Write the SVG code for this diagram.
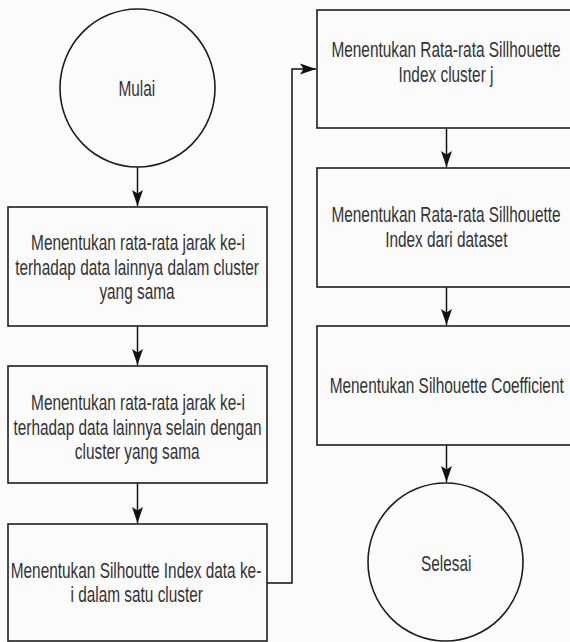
<svg xmlns="http://www.w3.org/2000/svg" width="570" height="642" viewBox="0 0 570 642">
<style>
.bg{fill:#fbfbfb}
.shape{fill:#fbfbfb;stroke:#1e1e1e;stroke-width:1.6}
.edge{fill:none;stroke:#111;stroke-width:1.5}
text{font-family:"Liberation Sans",Arial,sans-serif;font-size:22px;fill:#333;text-anchor:middle}
</style>
<defs>
<marker id="arr" markerUnits="userSpaceOnUse" markerWidth="17" markerHeight="12" refX="16" refY="6" orient="auto">
<path d="M0,0.5 L16,6 L0,11.5 L3.5,6 Z" fill="#111"/>
</marker>
</defs>
<rect class="bg" x="0" y="0" width="570" height="642"/>
<g id="connectors">
<path class="edge" d="M137.5,167 L137.5,206" marker-end="url(#arr)"/>
<path class="edge" d="M137.5,326 L137.5,365" marker-end="url(#arr)"/>
<path class="edge" d="M137.5,483 L137.5,523" marker-end="url(#arr)"/>
<path class="edge" d="M267,583 L292,583 L292,69 L316,69" marker-end="url(#arr)"/>
<path class="edge" d="M446.5,128 L446.5,167" marker-end="url(#arr)"/>
<path class="edge" d="M446.5,287 L446.5,325" marker-end="url(#arr)"/>
<path class="edge" d="M446.5,445 L446.5,482" marker-end="url(#arr)"/>
</g>
<g id="mulai">
<ellipse class="shape" cx="137.5" cy="88" rx="77.5" ry="79"/>
<text transform="translate(136.8,96) scale(0.7,1)">Mulai</text>
</g>
<g id="step1">
<rect class="shape" x="8" y="207" width="259" height="119"/>
<text transform="translate(138,250.3) scale(0.7,1)">Menentukan rata-rata jarak ke-i</text>
<text transform="translate(137,275) scale(0.7,1)">terhadap data lainnya dalam cluster</text>
<text transform="translate(137,299) scale(0.7,1)">yang sama</text>
</g>
<g id="step2">
<rect class="shape" x="8" y="366" width="259" height="117"/>
<text transform="translate(138,410.3) scale(0.7,1)">Menentukan rata-rata jarak ke-i</text>
<text transform="translate(137.5,435) scale(0.7,1)">terhadap data lainnya selain dengan</text>
<text transform="translate(137.2,459) scale(0.7,1)">cluster yang sama</text>
</g>
<g id="step3">
<rect class="shape" x="8" y="524" width="259" height="117"/>
<text transform="translate(136,577.7) scale(0.7,1)">Menentukan Silhoutte Index data ke-</text>
<text transform="translate(136.7,601.7) scale(0.7,1)">i dalam satu cluster</text>
</g>
<g id="step4">
<rect class="shape" x="317" y="10" width="259" height="118"/>
<text transform="translate(446,57.3) scale(0.7,1)">Menentukan Rata-rata Sillhouette</text>
<text transform="translate(446,82.3) scale(0.7,1)">Index cluster j</text>
</g>
<g id="step5">
<rect class="shape" x="317" y="168" width="259" height="119"/>
<text transform="translate(446,221.7) scale(0.7,1)">Menentukan Rata-rata Sillhouette</text>
<text transform="translate(446.3,246.7) scale(0.7,1)">Index dari dataset</text>
</g>
<g id="step6">
<rect class="shape" x="317" y="326" width="259" height="119"/>
<text transform="translate(446.7,392.7) scale(0.7,1)">Menentukan Silhouette Coefficient</text>
</g>
<g id="selesai">
<ellipse class="shape" cx="445.5" cy="562" rx="77.5" ry="79"/>
<text transform="translate(446.2,571) scale(0.7,1)">Selesai</text>
</g>
</svg>
